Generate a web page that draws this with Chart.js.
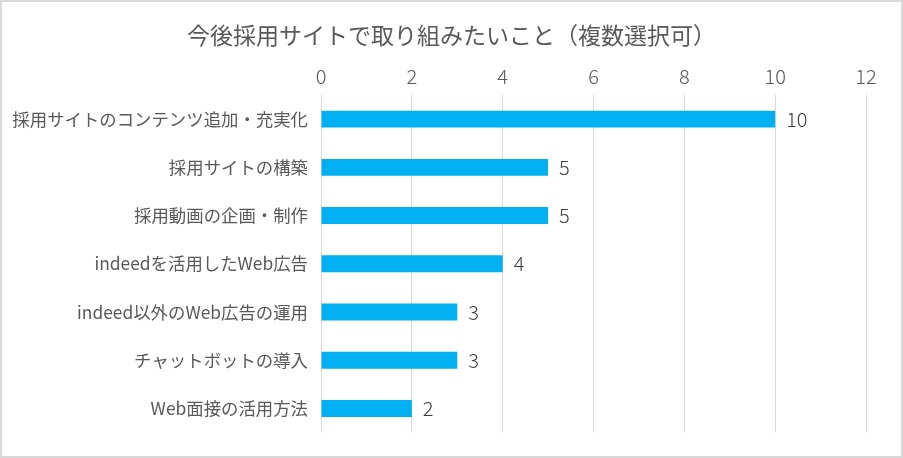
<!DOCTYPE html>
<html>
<head>
<meta charset="utf-8">
<script src="https://cdn.jsdelivr.net/npm/chart.js@4"></script>
<style>
  body { margin: 0; background: #fff; }
  #wrap { width: 903px; height: 458px; box-sizing: border-box; border: 2px solid #d9d9d9; background: #fff; }
  #wrap canvas { display: block; }
</style>
</head>
<body>
<div id="wrap"><canvas id="myChart" width="899" height="454"></canvas></div>
<script>
const chartTitle = "今後採用サイトで取り組みたいこと（複数選択可）";
const categories = [
  "採用サイトのコンテンツ追加・充実化",
  "採用サイトの構築",
  "採用動画の企画・制作",
  "indeedを活用したWeb広告",
  "indeed以外のWeb広告の運用",
  "チャットボットの導入",
  "Web面接の活用方法",
];
const counts = [10, 5, 5, 4, 3, 3, 2];
const xTicks = [0, 2, 4, 6, 8, 10, 12];

const FONT = "'Noto Sans CJK JP', 'Noto Sans', sans-serif";

// title centred on the whole canvas (not just the padded box)
const centerTitle = {
  id: "centerTitle",
  afterDraw(chart) {
    const ctx = chart.ctx;
    ctx.save();
    ctx.font = "23px " + FONT;
    ctx.fillStyle = "#595959";
    ctx.textAlign = "center";
    ctx.textBaseline = "middle";
    ctx.fillText(chartTitle, chart.width / 2, 33);
    ctx.restore();
  },
};

// value labels to the right of each bar
const valueLabels = {
  id: "valueLabels",
  afterDatasetsDraw(chart) {
    const ctx = chart.ctx;
    const meta = chart.getDatasetMeta(0);
    ctx.save();
    ctx.font = "300 20px " + FONT;
    ctx.fillStyle = "#404040";
    ctx.textAlign = "left";
    ctx.textBaseline = "middle";
    meta.data.forEach((bar, i) => {
      ctx.fillText(String(counts[i]), bar.x + 11, bar.y);
    });
    ctx.restore();
  },
};

new Chart(document.getElementById("myChart"), {
  type: "bar",
  data: {
    labels: categories,
    datasets: [
      {
        data: counts,
        backgroundColor: "#00B0F0",
        barPercentage: 0.35,
        categoryPercentage: 1,
      },
    ],
  },
  options: {
    indexAxis: "y",
    responsive: false,
    animation: false,
    layout: { padding: { left: 0, right: 35, top: 54, bottom: 22 } },
    plugins: {
      legend: { display: false },
      tooltip: { enabled: false },
      title: { display: false },
    },
    scales: {
      x: {
        position: "top",
        min: 0,
        max: 12,
        afterBuildTicks: (scale) => {
          scale.ticks = xTicks.map((v) => ({ value: v }));
        },
        afterFit: (scale) => {
          scale.height = 39;
        },
        grid: { color: "#d9d9d9", drawTicks: false },
        border: { display: false },
        ticks: {
          color: "#595959",
          padding: 7,
          font: { family: FONT, size: 20, weight: 300 },
        },
      },
      y: {
        afterFit: (scale) => {
          scale.width = 319;
        },
        grid: { display: false, drawTicks: false },
        border: { display: false },
        ticks: {
          color: "#595959",
          padding: 13,
          font: { family: FONT, size: 17.4 },
        },
      },
    },
  },
  plugins: [valueLabels, centerTitle],
});
</script>
</body>
</html>
